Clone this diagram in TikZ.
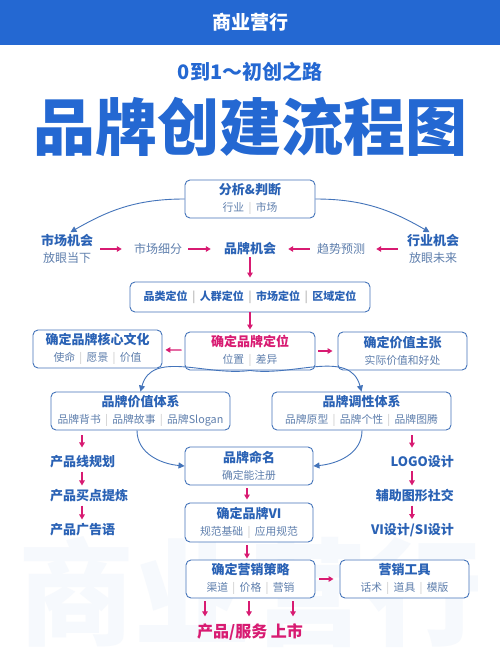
\documentclass[tikz,border=0pt]{standalone}
\usepackage{xcolor}
\usepackage{fontspec}
\setmainfont{Noto Sans CJK SC}
\usepackage{tikz}
\usetikzlibrary{positioning,arrows.meta}

\definecolor{hdblue}{HTML}{2468D2}
\definecolor{tblue}{HTML}{2A62B5}
\definecolor{sblue}{HTML}{5F7FAD}
\definecolor{lineblue}{HTML}{4474BA}
\definecolor{pinkred}{HTML}{D81B72}

\newcommand{\sep}{\hspace{0.4em}\textcolor{gray!45}{|}\hspace{0.4em}}
\newcommand{\ttl}{\bfseries\fontsize{13}{15}\selectfont\color{tblue}}
\newcommand{\sub}{\fontsize{10.8}{11}\selectfont\color{sblue}}

\begin{document}
\begin{tikzpicture}[x=1pt,y=1pt,yscale=-1,
  box/.style={draw=lineblue,line width=0.9pt,rounded corners=5pt,fill=white,
    minimum width=130pt,minimum height=38pt,inner sep=0pt,align=center,
    font=\fontsize{9.5}{17}\selectfont},
  lbl/.style={inner sep=0pt,align=center,font=\fontsize{12}{17}\selectfont},
  colt/.style={inner sep=0pt,font=\bfseries\fontsize{13}{15}\selectfont,text=tblue},
  parr/.style={-{Triangle[length=5pt,width=5.5pt]},draw=pinkred,line width=1.2pt},
  barr/.style={-{Triangle[length=6pt,width=6pt]},draw=lineblue,line width=0.9pt}]
\useasboundingbox (0,0) rectangle (500,666);
\fill[white] (0,0) rectangle (500,666);

%background lettering
\node[inner sep=0pt,text=hdblue!4,font=\bfseries\fontsize{116}{116}\selectfont] (bgword) at (250,592) {商业营行};

%header bar
\fill[hdblue] (0,0) rectangle (500,45);
\node[text=white,font=\bfseries\fontsize{19}{20}\selectfont] (head) at (250,22) {商业营行};

% Text Node
\node[text=hdblue,font=\bfseries\fontsize{20}{22}\selectfont] (subtitle) at (250,72) {0到1～初创之路};
\node[text=hdblue,font=\bfseries\fontsize{62}{64}\selectfont] (title) at (250,127) {品牌创建流程图};

%Box: analysis
\node[box] (ana) at (250,199) {{\ttl 分析\&判断}\\{\sub 行业\sep 市场}};

% Text Node
\node[lbl] (mkt) at (67,249) {{\ttl 市场机会}\\{\color{sblue}放眼当下}};
\node[lbl] (ind) at (433,249) {{\ttl 行业机会}\\{\color{sblue}放眼未来}};
\node[lbl,text=sblue] (seg) at (158,249) {市场细分};
\node[lbl] (opp) at (250,249) {\ttl 品牌机会};
\node[lbl,text=sblue] (trend) at (341,249) {趋势预测};

%Box: positioning
\node[box,minimum width=240pt,minimum height=30pt] (posn) at (250,297)
  {\bfseries\fontsize{11}{13}\selectfont\color{tblue}品类定位\sep 人群定位\sep 市场定位\sep 区域定位};

%Box: core row
\node[box] (core) at (250,351) {{\bfseries\fontsize{13}{15}\selectfont\color{pinkred}确定品牌定位}\\{\sub 位置\sep 差异}};
\node[box,minimum width=129pt] (cult) at (97.5,349) {{\ttl 确定品牌核心文化}\\{\sub 使命\sep 愿景\sep 价值}};
\node[box,minimum width=129pt] (prop) at (402.5,351) {{\ttl 确定价值主张}\\{\sub 实际价值和好处}};

%Box: systems
\node[box,minimum width=179pt] (val) at (140.5,411) {{\ttl 品牌价值体系}\\{\sub 品牌背书\sep 品牌故事\sep 品牌Slogan}};
\node[box,minimum width=179pt] (ton) at (361.5,411) {{\ttl 品牌调性体系}\\{\sub 品牌原型\sep 品牌个性\sep 品牌图腾}};

%Box: centre column
\node[box,minimum width=128pt] (name) at (249,466) {{\ttl 品牌命名}\\{\sub 确定能注册}};
\node[box,minimum width=128pt,minimum height=39pt] (vi) at (249,522.5) {{\ttl 确定品牌VI}\\{\sub 规范基础\sep 应用规范}};
\node[box,minimum width=129pt] (mkts) at (250.5,579) {{\ttl 确定营销策略}\\{\sub 渠道\sep 价格\sep 营销}};
\node[box,minimum width=129pt] (tools) at (404.5,579) {{\ttl 营销工具}\\{\sub 话术\sep 道具\sep 模版}};

% Text Node
\node[colt,anchor=west] (p1) at (50,462) {产品线规划};
\node[colt,anchor=west] (p2) at (50,496) {产品买点提炼};
\node[colt,anchor=west] (p3) at (50,530) {产品广告语};
\node[colt,anchor=east] (l1) at (454,462) {LOGO设计};
\node[colt,anchor=east] (l2) at (454,496) {辅助图形社交};
\node[colt,anchor=east] (l3) at (454,530) {VI设计/SI设计};
\node[inner sep=0pt,text=pinkred,font=\bfseries\fontsize{16}{18}\selectfont] (launch) at (250,632) {产品/服务 上市};

\coordinate (lcol) at (82,0);
\coordinate (rcol) at (412,0);

%blue curves
\draw[barr,shorten >=4pt] (ana.west) to[out=180,in=-30] (mkt.north);
\draw[barr,shorten >=4pt] (ana.east) to[out=0,in=210] (ind.north);
\draw[barr] (core.south) to[out=172,in=-75] (val.north);
\draw[barr] (core.south) to[out=8,in=-105] (ton.north);
\draw[barr] ([xshift=-3.5pt]val.south) to[out=90,in=185] (name.west);
\draw[barr] ([xshift=0.5pt]ton.south) to[out=90,in=-5] (name.east);

%pink arrows
\draw[parr,shorten <=7pt,shorten >=12pt] (mkt) -- (seg);
\draw[parr,shorten <=6pt,shorten >=13pt] (seg) -- (opp);
\draw[parr,shorten <=9pt,shorten >=11pt] (ind) -- (trend);
\draw[parr,shorten <=7pt,shorten >=12pt] (trend) -- (opp);
\draw[parr,shorten <=2pt,shorten >=4pt] (opp) -- (posn);
\draw[parr,shorten >=2pt] (posn) -- (core);
\draw[parr,shorten <=3pt,shorten >=3pt] (core) -- (cult);
\draw[parr,shorten <=3pt,shorten >=5pt] (core) -- (prop);
\draw[parr,shorten <=5pt,shorten >=8pt] (lcol |- val.south) -- (lcol |- p1.north);
\draw[parr,shorten <=3pt,shorten >=4pt] (lcol |- p1.south) -- (lcol |- p2.north);
\draw[parr,shorten <=3pt,shorten >=4pt] (lcol |- p2.south) -- (lcol |- p3.north);
\draw[parr,shorten <=5pt,shorten >=8pt] (rcol |- ton.south) -- (rcol |- l1.north);
\draw[parr,shorten <=3pt,shorten >=4pt] (rcol |- l1.south) -- (rcol |- l2.north);
\draw[parr,shorten <=3pt,shorten >=4pt] (rcol |- l2.south) -- (rcol |- l3.north);
\draw[parr,shorten <=3pt,shorten >=3pt] ([xshift=-2pt]name.south) -- ([xshift=-2pt]vi.north);
\draw[parr,shorten <=3pt,shorten >=1pt] ([xshift=-2pt]vi.south) -- ([xshift=-3.5pt]mkts.north);
\draw[parr,shorten <=4pt,shorten >=6pt] (mkts) -- (tools);
\foreach \xx in {205,249,293}
  \draw[parr,shorten <=3pt,shorten >=7pt] (mkts.south -| \xx,0) -- (launch.north -| \xx,0);
\end{tikzpicture}
\end{document}
